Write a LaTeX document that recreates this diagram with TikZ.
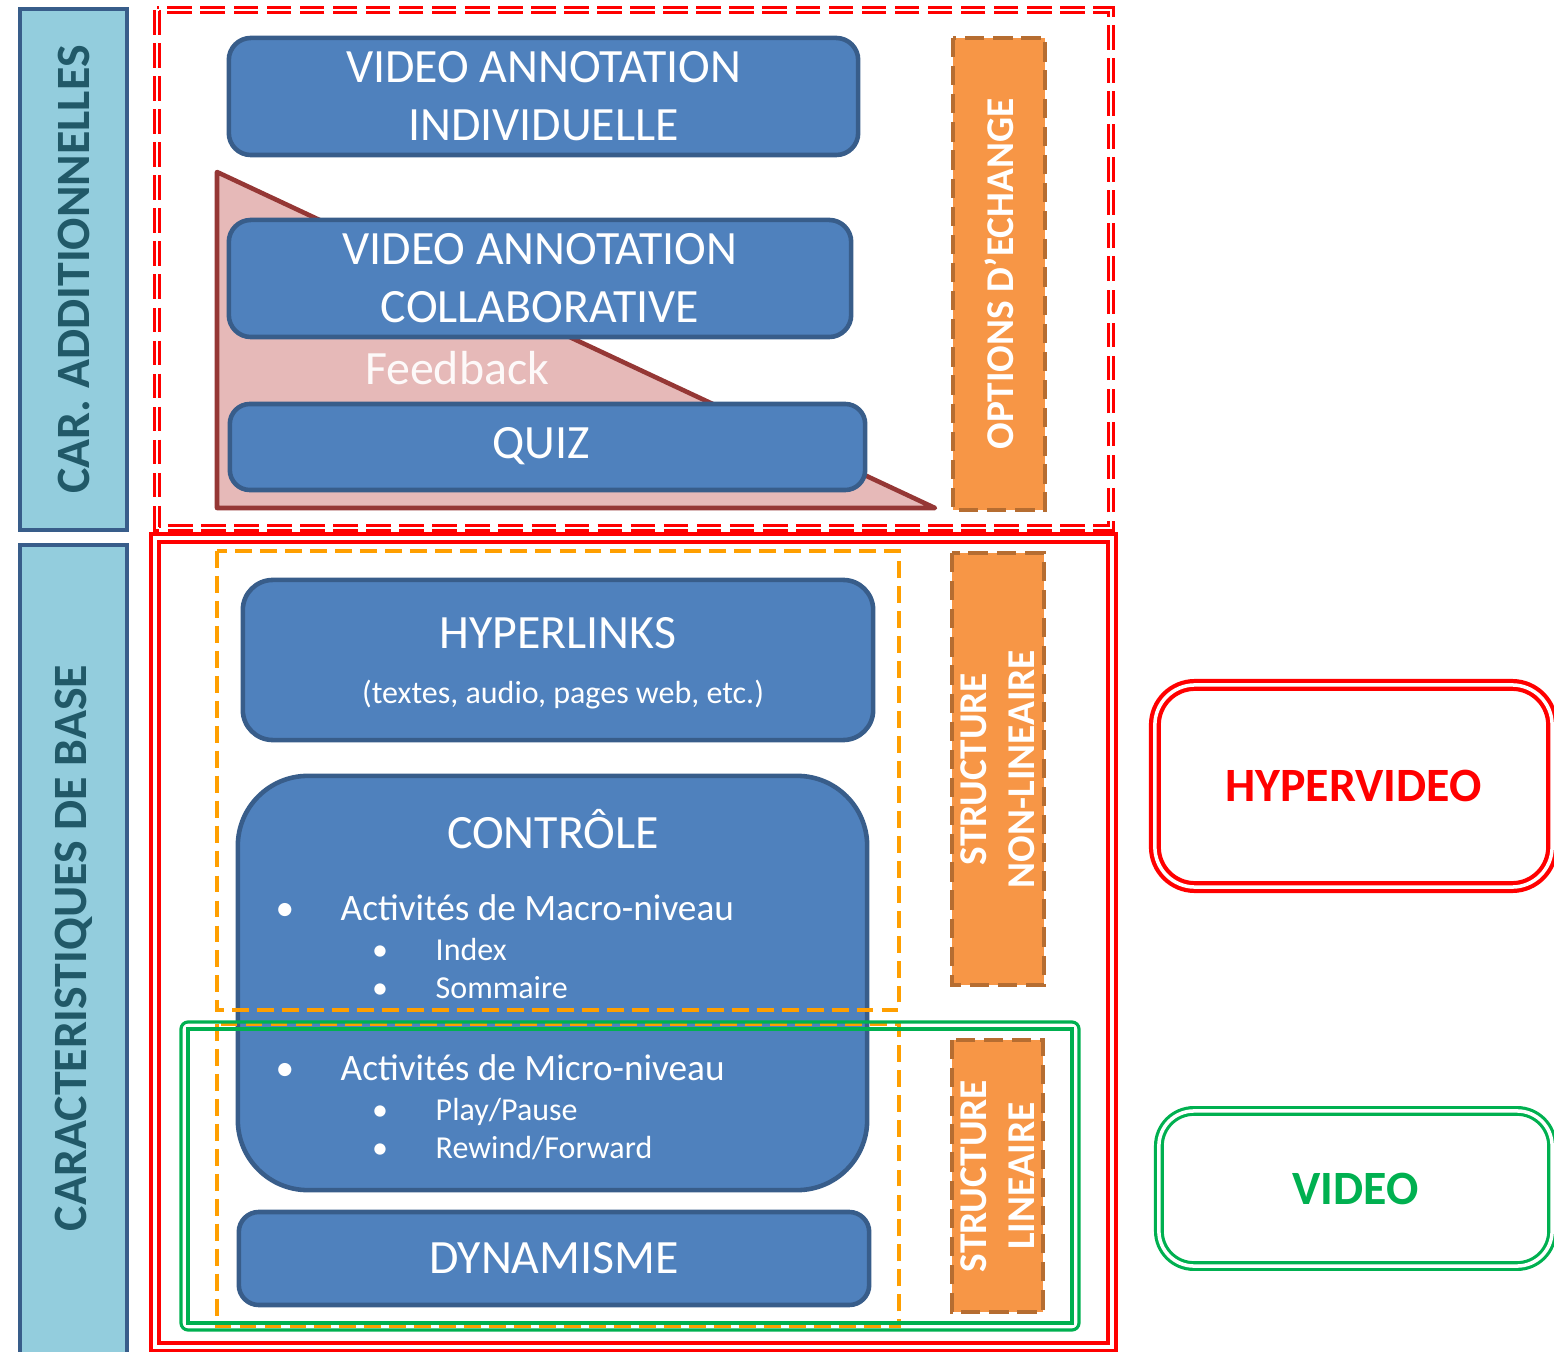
\documentclass[tikz,border=0pt]{standalone}
\usepackage{fontspec}
\setmainfont{Carlito}

\definecolor{boxblue}{HTML}{4F81BD}
\definecolor{boxline}{HTML}{385D8A}
\definecolor{barblue}{HTML}{93CDDD}
\definecolor{barteal}{HTML}{215968}
\definecolor{tabfill}{HTML}{F79646}
\definecolor{tabline}{HTML}{B66D31}
\definecolor{framorange}{HTML}{FF9F00}
\definecolor{framgreen}{HTML}{00B050}
\definecolor{wedgefill}{HTML}{E6B9B8}
\definecolor{wedgeline}{HTML}{953735}

\newcommand{\bigsize}{\fontsize{13.6}{16.5}\selectfont}
\newcommand{\midsize}{\fontsize{10.6}{13}\selectfont}
\newcommand{\smallsize}{\fontsize{9.1}{11}\selectfont}
\newcommand{\tabsize}{\fontsize{11.2}{13.7}\selectfont}

\begin{document}
\begin{tikzpicture}[x=0.01cm, y=-0.01cm,
		bluebox/.style={draw=boxline, fill=boxblue, line width=1.3pt, text=white, align=center, font=\bigsize},
		sidebar/.style={draw=boxline, fill=barblue, line width=1.2pt, text=barteal, font=\bigsize\bfseries, rotate=90},
		tabbox/.style={draw=tabline, fill=tabfill, line width=1.2pt, dash pattern=on 5.5pt off 2.5pt, text=white, font=\tabsize\bfseries, align=center, rotate=90},
		whitetext/.style={text=white},
		orangeframe/.style={framorange, line width=1.3pt, dash pattern=on 4.8pt off 2.3pt}]
		\tikzstyle{every node}+=[inner sep=0pt]
		\useasboundingbox (0,0) rectangle (1554,1352);
		% side bars
		\node[sidebar, minimum width=5.21cm, minimum height=1.07cm] (caradd) at (73.5,269.5) {CAR. ADDITIONNELLES};
		\node[sidebar, minimum width=8.4cm, minimum height=1.07cm] (carbase) at (73.5,965) {};
		\node[text=barteal, font=\bigsize\bfseries, rotate=90] (carbasetext) at (73.5,948) {CARACTERISTIQUES DE BASE};
		% feedback wedge
		\coordinate (wtop) at (217,172);
		\coordinate (wleft) at (217,508);
		\coordinate (wright) at (935,508);
		\draw[wedgeline, fill=wedgefill, line width=1.3pt, line join=round] (wtop) -- (wright) -- (wleft) -- cycle;
		% additional features
		\node[bluebox, rounded corners=0.22cm, minimum width=6.29cm, minimum height=1.17cm] (vaind) at (543.5,96.5) {VIDEO ANNOTATION\\INDIVIDUELLE};
		\node[bluebox, rounded corners=0.22cm, minimum width=6.22cm, minimum height=1.17cm] (vacoll) at (540,278.5) {VIDEO ANNOTATION\\COLLABORATIVE};
		\node[text=white!92!wedgefill, font=\bigsize] (feedback) at (457,368) {Feedback};
		\node[bluebox, rounded corners=0.2cm, minimum width=6.35cm, minimum height=0.86cm] (quiz) at (547.5,447) {};
		\node[whitetext, font=\bigsize] (quiztext) at (541,446) {QUIZ};
		\node[tabbox, minimum width=4.72cm, minimum height=0.92cm] (options) at (999,274) {OPTIONS D’ECHANGE};
		% basic features
		\node[bluebox, rounded corners=0.3cm, minimum width=6.3cm, minimum height=1.6cm] (hyperlinks) at (558,660) {};
		\node[whitetext, font=\bigsize] (hypertitle) at (558,633) {HYPERLINKS};
		\node[whitetext, font=\smallsize] (hypersub) at (563,695) {(textes, audio, pages web, etc.)};
		\node[bluebox, rounded corners=0.7cm, minimum width=6.29cm, minimum height=4.14cm] (controle) at (552.5,983) {};
		\node[whitetext, font=\bigsize] (ctrltitle) at (553,829) {CONTRÔLE};
		\node[whitetext, font=\midsize, anchor=base] (bmacro) at (285,920) {\textbullet};
		\node[whitetext, font=\midsize, anchor=base west] (macro) at (340,920) {Activités de Macro-niveau};
		\node[whitetext, font=\smallsize, anchor=base] (bindex) at (380,960) {\textbullet};
		\node[whitetext, font=\smallsize, anchor=base west] (index) at (435,960) {Index};
		\node[whitetext, font=\smallsize, anchor=base] (bsommaire) at (380,998) {\textbullet};
		\node[whitetext, font=\smallsize, anchor=base west] (sommaire) at (435,998) {Sommaire};
		\node[whitetext, font=\midsize, anchor=base] (bmicro) at (285,1080) {\textbullet};
		\node[whitetext, font=\midsize, anchor=base west] (micro) at (340,1080) {Activités de Micro-niveau};
		\node[whitetext, font=\smallsize, anchor=base] (bplay) at (380,1120) {\textbullet};
		\node[whitetext, font=\smallsize, anchor=base west] (play) at (435,1120) {Play/Pause};
		\node[whitetext, font=\smallsize, anchor=base] (brewind) at (380,1158) {\textbullet};
		\node[whitetext, font=\smallsize, anchor=base west] (rewind) at (435,1158) {Rewind/Forward};
		\node[bluebox, rounded corners=0.2cm, minimum width=6.3cm, minimum height=0.93cm] (dynamisme) at (554,1258.5) {DYNAMISME};
		\node[tabbox, minimum width=4.32cm, minimum height=0.92cm] (nonlin) at (998,769) {STRUCTURE\\NON-LINEAIRE};
		\node[tabbox, minimum width=2.72cm, minimum height=0.91cm] (lin) at (997.5,1176) {STRUCTURE\\LINEAIRE};
		% frames
		\draw[red, line width=0.9pt, double=white, double distance=0.6pt, dash pattern=on 7pt off 2.4pt] (157,10) rectangle (1111,528);
		\draw[red, line width=1.2pt, double=white, double distance=0.9pt] (155,538) rectangle (1112,1347);
		\draw[orangeframe] (217,551) rectangle (899,1010);
		\draw[orangeframe] (217,1024) rectangle (899,1326);
		\draw[framgreen, line width=0.9pt, rounded corners=2pt] (181,1022) rectangle (1079,1330);
		\draw[framgreen, line width=0.9pt] (188,1029) rectangle (1072,1323);
		% legend
		\node[draw=red, line width=1.2pt, double=white, double distance=1pt, rounded corners=0.4cm, minimum width=3.97cm, minimum height=2.02cm, text=red, font=\bigsize\bfseries] (hypervideo) at (1353.5,786) {HYPERVIDEO};
		\node[draw=framgreen, line width=0.9pt, double=white, double distance=1pt, rounded corners=0.35cm, minimum width=3.93cm, minimum height=1.55cm, text=framgreen, font=\bigsize\bfseries] (video) at (1355.5,1188.5) {VIDEO};
	\end{tikzpicture}
\end{document}
